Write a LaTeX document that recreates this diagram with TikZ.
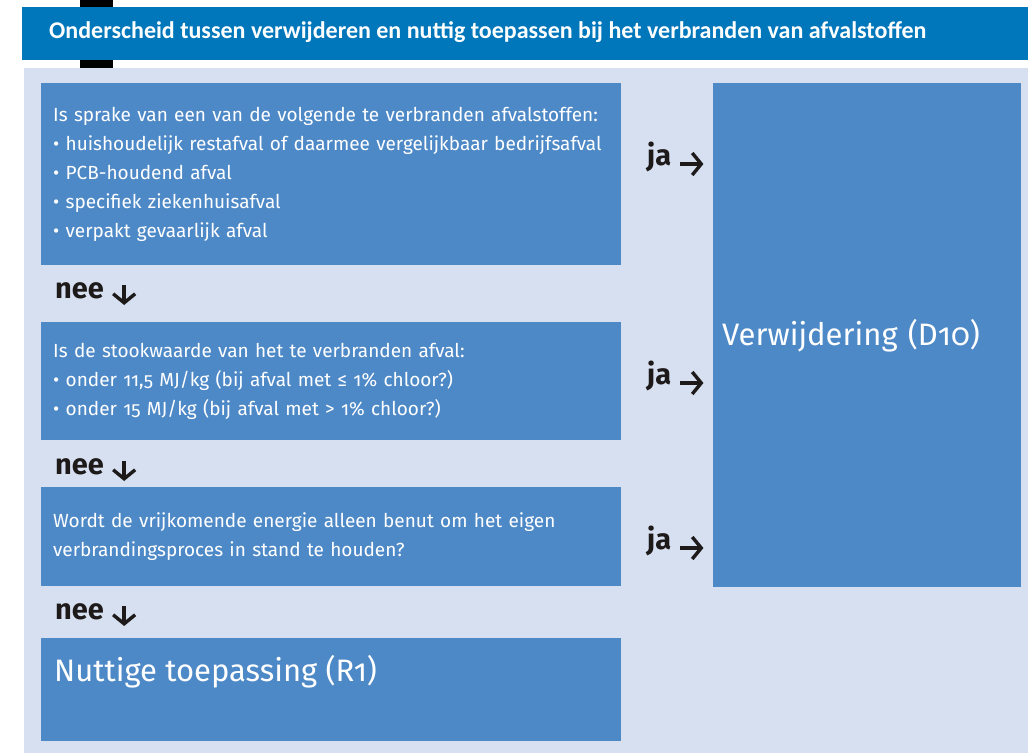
\documentclass[tikz,border=0pt]{standalone}
\usepackage{fontspec}
\setmainfont{Fira Sans}[Numbers=OldStyle]
\newfontfamily\headfont{Carlito}
\usetikzlibrary{arrows.meta, positioning}

\definecolor{headblue}{RGB}{0,119,187}
\definecolor{paleblue}{RGB}{214,224,241}
\definecolor{boxblue}{RGB}{78,137,199}
\definecolor{darktext}{RGB}{30,26,26}

\begin{document}
\begin{tikzpicture}[
    x = 1pt, y = -1pt,
    >= {Straight Barb[length=9pt, width=22pt]},
    question/.style = {
        rectangle, fill = boxblue, text = white,
        anchor = north west, inner xsep = 12pt, inner ysep = 0pt,
        text width = 556pt, minimum width = 580pt, align = left,
        font = \fontsize{19}{29}\selectfont
    },
    result/.style = {
        rectangle, fill = boxblue, text = white,
        anchor = north west, inner xsep = 9pt, inner ysep = 0pt,
        align = left, font = \fontsize{31}{36}\selectfont
    },
    answer/.style = {
        anchor = base west, inner sep = 0pt, text = darktext,
        font = \fontsize{29}{32}\selectfont\bfseries
    },
    arrow/.style = {->, line width = 3.4pt, draw = darktext}
]

% --- Frame and title ---
\useasboundingbox (0,0) rectangle (1028,753);
\fill[black] (80,0) rectangle (113,68);
\node[rectangle, fill = headblue, anchor = north west, inner sep = 0pt,
      minimum width = 1006pt, minimum height = 53pt] (title) at (22,7) {};
\node[anchor = west, text = white, inner sep = 0pt,
      font = \headfont\fontsize{24}{28}\selectfont\bfseries] (titletext) at (49,32)
    {Onderscheid tussen verwijderen en nuttig toepassen bij het verbranden van afvalstoffen};
\fill[paleblue] (24,68) rectangle (1028,753);

% --- Questions (absolute coordinates, pt) ---
\node[question, minimum height = 182pt] (waste) at (41,83) {%
    Is sprake van een van de volgende te verbranden afvalstoffen:\\
    \textbullet\ huishoudelijk restafval of daarmee vergelijkbaar bedrijfsafval\\
    \textbullet\ PCB-houdend afval\\
    \textbullet\ specifiek ziekenhuisafval\\
    \textbullet\ verpakt gevaarlijk afval};

\node[question, minimum height = 118pt] (calorific) at (41,322) {%
    Is de stookwaarde van het te verbranden afval:\\
    \textbullet\ onder 11,5 MJ/kg (bij afval met ≤ 1\% chloor?)\\
    \textbullet\ onder 15 MJ/kg (bij afval met > 1\% chloor?)};

\node[question, minimum height = 99pt] (energy) at (41,487) {%
    Wordt de vrijkomende energie alleen benut om het eigen\\
    verbrandingsproces in stand te houden?};

\node[question, minimum height = 103pt] (recovery) at (41,638) {};
\node[result, anchor = base west, inner xsep = 0pt] (recoverytext) at (54,681)
    {Nuttige toepassing (R1)};

% --- Result ---
\node[result, text width = 290pt, minimum width = 308pt,
      minimum height = 504pt] (disposal) at (713,83) {Verwijdering (D10)};

% --- Answers ---
\node[answer] (nee1) at (55,298) {nee};
\node[answer] (nee2) at (55,474) {nee};
\node[answer] (nee3) at (55,619) {nee};

\node[answer] (ja1) at (647,165) {ja};
\node[answer] (ja2) at (647,384) {ja};
\node[answer] (ja3) at (647,549) {ja};

% --- Arrows ---
\foreach \n in {nee1, nee2, nee3}
    \draw[arrow] ([xshift=20pt, yshift=13pt]\n.base east) -- ++(0,20);
\foreach \j in {ja1, ja2, ja3}
    \draw[arrow] ([xshift=9pt, yshift=1pt]\j.base east) -- ++(23,0);

\end{tikzpicture}
\end{document}
